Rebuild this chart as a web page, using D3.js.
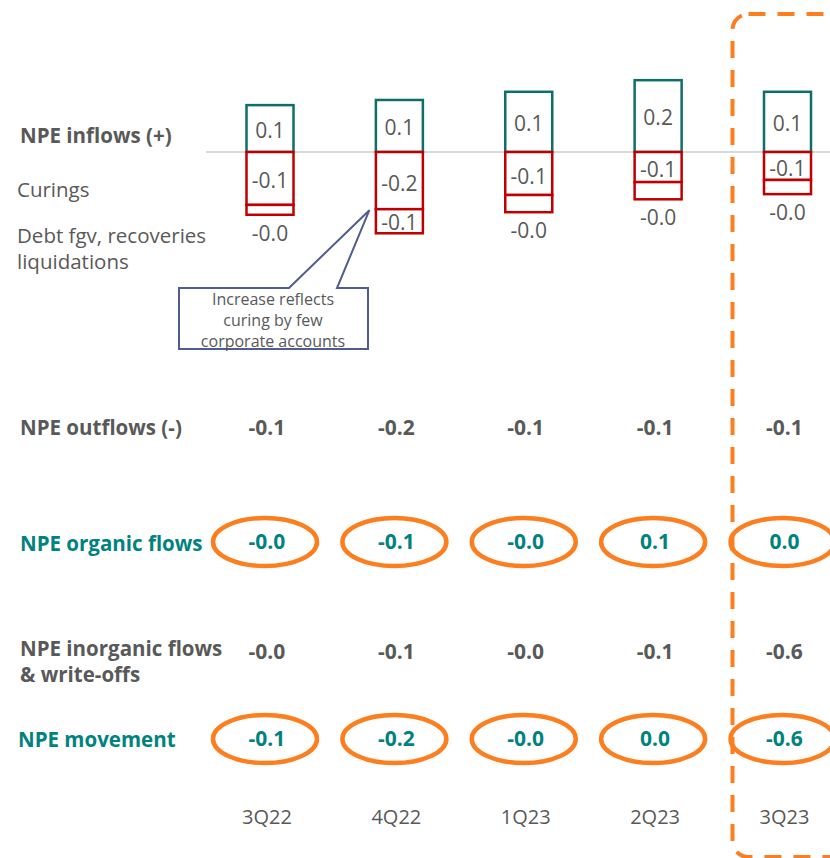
<!DOCTYPE html>
<html><head><meta charset="utf-8">
<script src="https://cdn.jsdelivr.net/npm/d3@7"></script>
<style>body{margin:0;background:#fff}svg{display:block}</style>
</head><body>
<script>
// ---- data ----
const categories = ["3Q22","4Q22","1Q23","2Q23","3Q23"];
const inflows    = [0.109, 0.121, 0.140, 0.167, 0.140];
const curings    = [-0.123, -0.133, -0.100, -0.070, -0.065];
const debtFgv    = [-0.023, -0.056, -0.040, -0.040, -0.033];
const inflowLabels  = ["0.1","0.1","0.1","0.2","0.1"];
const curingLabels  = ["-0.1","-0.2","-0.1","-0.1","-0.1"];
const debtLabels    = ["-0.0","-0.1","-0.0","-0.0","-0.0"];
const outflows      = ["-0.1","-0.2","-0.1","-0.1","-0.1"];
const organicFlows  = ["-0.0","-0.1","-0.0","0.1","0.0"];
const inorganicFlows= ["-0.0","-0.1","-0.0","-0.1","-0.6"];
const npeMovement   = ["-0.1","-0.2","-0.0","0.0","-0.6"];
const highlighted   = "3Q23";
const calloutText   = ["Increase reflects","curing by few","corporate accounts"];

const W = 830, H = 858;
const FONT = "'Open Sans', 'Noto Sans', sans-serif";
const GRAY = "#595959", TEAL_TXT = "#00827f", TEAL = "#0e6e6a", RED = "#c00000", ORANGE = "#fd7e1f";

const svg = d3.select("body").append("svg").attr("width", W).attr("height", H)
  .style("font-family", FONT);

const x = d3.scalePoint().domain(categories).range([270, 787.5]);
const y = d3.scaleLinear().domain([-0.2, 0.2]).range([238, 66]);
const bw = 47;

// highlight box
svg.append("rect").attr("x", x(highlighted) - 55).attr("y", 14)
  .attr("width", 140).attr("height", 843).attr("rx", 16)
  .attr("fill", "none").attr("stroke", ORANGE).attr("stroke-width", 4)
  .attr("stroke-dasharray", "17 12");

// baseline
svg.append("line").attr("x1", 206).attr("x2", W).attr("y1", y(0)).attr("y2", y(0))
  .attr("stroke", "#d9d9d9").attr("stroke-width", 2);

// row labels
const rowLabels = [
  {t:["NPE inflows (+)"], y:143, bold:true, c:GRAY, x:20},
  {t:["Curings"], y:197, bold:false, c:GRAY, x:17},
  {t:["Debt fgv, recoveries","liquidations"], y:243, bold:false, c:GRAY, x:17},
  {t:["NPE outflows (-)"], y:435, bold:true, c:GRAY, x:20},
  {t:["NPE organic flows"], y:551, bold:true, c:TEAL_TXT, x:20},
  {t:["NPE inorganic flows","& write-offs"], y:656, bold:true, c:GRAY, x:20},
  {t:["NPE movement"], y:747, bold:true, c:TEAL_TXT, x:18},
];
rowLabels.forEach(r => {
  const t = svg.append("text").attr("x", r.x).attr("y", r.y)
    .attr("fill", r.c).attr("font-size", 20.5)
    .attr("font-weight", r.bold ? 700 : 400);
  r.t.forEach((s, i) => t.append("tspan").attr("x", r.x).attr("dy", i ? 26 : 0).text(s));
});

// bars
const g = svg.append("g");
categories.forEach((c, i) => {
  const cx = x(c);
  const y0 = y(0), yIn = y(inflows[i]), yCur = y(curings[i]), yDebt = y(curings[i] + debtFgv[i]);
  g.append("rect").attr("x", cx - bw/2).attr("y", yIn).attr("width", bw).attr("height", y0 - yIn)
    .attr("fill", "#fff").attr("stroke", TEAL).attr("stroke-width", 2.5);
  g.append("rect").attr("x", cx - bw/2).attr("y", y0).attr("width", bw).attr("height", yCur - y0)
    .attr("fill", "#fff").attr("stroke", RED).attr("stroke-width", 2.5);
  g.append("rect").attr("x", cx - bw/2).attr("y", yCur).attr("width", bw).attr("height", yDebt - yCur)
    .attr("fill", "#fff").attr("stroke", RED).attr("stroke-width", 2.5);
  const lab = (txt, yy) => g.append("text").attr("x", cx).attr("y", yy)
    .attr("text-anchor", "middle").attr("dominant-baseline", "central")
    .attr("fill", GRAY).attr("font-size", 21).text(txt);
  lab(inflowLabels[i], (yIn + y0)/2 + 1);
  lab(curingLabels[i], (y0 + yCur)/2 + 2);
  if (yDebt - yCur > 20) lab(debtLabels[i], (yCur + yDebt)/2 + 1);
  else lab(debtLabels[i], yDebt + 18);
});

// callout
const tip = [x("4Q22") - 30, y(curings[1]) + 1];
const cb = {x1:179, x2:368, y1:288, y2:349};
const path = d3.path();
path.moveTo(cb.x1, cb.y1); path.lineTo(289, cb.y1); path.lineTo(tip[0], tip[1]);
path.lineTo(337, cb.y1); path.lineTo(cb.x2, cb.y1); path.lineTo(cb.x2, cb.y2);
path.lineTo(cb.x1, cb.y2); path.closePath();
svg.append("path").attr("d", path.toString()).attr("fill", "#fff")
  .attr("stroke", "#4f5d8f").attr("stroke-width", 2);
calloutText.forEach((s, i) => svg.append("text").attr("x", 273).attr("y", 305 + i*21)
  .attr("text-anchor", "middle").attr("fill", GRAY).attr("font-size", 16).text(s));

// value rows
const valueRow = (arr, yy, color, ellipse) => {
  categories.forEach((c, i) => {
    const cx = x(c) - 3;
    if (ellipse) svg.append("ellipse").attr("cx", cx - 2).attr("cy", yy - 7).attr("rx", 52).attr("ry", 24)
      .attr("fill", "none").attr("stroke", ORANGE).attr("stroke-width", 4.5);
    svg.append("text").attr("x", cx).attr("y", yy).attr("text-anchor", "middle")
      .attr("fill", color).attr("font-size", 21).attr("font-weight", 700).text(arr[i]);
  });
};
valueRow(outflows, 435, GRAY, false);
valueRow(organicFlows, 549, TEAL_TXT, true);
valueRow(inorganicFlows, 659, GRAY, false);
valueRow(npeMovement, 746, TEAL_TXT, true);

// category axis labels
categories.forEach(c => svg.append("text").attr("x", x(c) - 3).attr("y", 824)
  .attr("text-anchor", "middle").attr("fill", GRAY).attr("font-size", 20).text(c));
</script>
</body></html>
